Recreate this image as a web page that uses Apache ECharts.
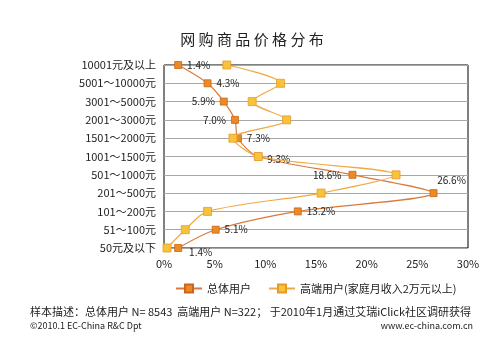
<!DOCTYPE html>
<html><head><meta charset="utf-8">
<script src="https://cdn.jsdelivr.net/npm/echarts@6/dist/echarts.min.js"></script>
<style>html,body{margin:0;padding:0;background:#fff}#c{width:504px;height:346px}</style>
</head><body><div id="c"></div>
<script>
var categories = ['10001元及以上','5001～10000元','3001～5000元','2001～3000元','1501～2000元','1001～1500元','501～1000元','201～500元','101～200元','51～100元','50元及以下'];
var overall = [1.4, 4.3, 5.9, 7.0, 7.3, 9.3, 18.6, 26.6, 13.2, 5.1, 1.4];
var highEnd = [6.2, 11.5, 8.7, 12.1, 6.8, 9.3, 22.9, 15.5, 4.3, 2.1, 0.3];
var xTicks = [0, 5, 10, 15, 20, 25, 30];
var seriesNames = ['总体用户', '高端用户(家庭月收入2万元以上)'];
var titleText = '网购商品价格分布';

var labelPos = ['right','right','left','left','right','right','left','top','right','right','right'];
var labelOff = [[0,0],[0,0],[0,0],[0,0],[0,0],[0,3],[-2,0],[18,1],[0,0],[0,0],[2,4]];
var overallData = overall.map(function(v,i){
  return {value: v, label: {position: labelPos[i], offset: labelOff[i]}};
});

var chart = echarts.init(document.getElementById('c'));
var font = '"Noto Sans CJK SC", "DejaVu Sans", sans-serif';
chart.setOption({
  animation: false,
  backgroundColor: '#fff',
  title: {text: titleText.split('').join(' '), left: 'center', top: 27,
    textStyle: {fontSize: 15, fontWeight: 'normal', color: '#222', fontFamily: font}},
  grid: {left: 164, right: 36, top: 65, bottom: 98, show: true, borderColor: '#000', borderWidth: 1, backgroundColor: 'transparent'},
  legend: {top: 278, left: 170, itemWidth: 26, itemHeight: 10, itemGap: 17,
    textStyle: {fontSize: 11, color: '#222', fontFamily: font},
    data: seriesNames},
  xAxis: {type: 'value', min: xTicks[0], max: xTicks[xTicks.length-1], interval: 5,
    axisLine: {show: false}, axisTick: {show: false}, splitLine: {show: false},
    axisLabel: {formatter: '{value}%', color: '#222', fontSize: 11, margin: 10, fontFamily: font}},
  yAxis: {type: 'category', data: categories, inverse: true, boundaryGap: false,
    axisLine: {show: false}, axisTick: {show: false},
    splitLine: {show: true, lineStyle: {color: '#a8a8a8', width: 1}},
    axisLabel: {color: '#222', fontSize: 11, margin: 8, fontFamily: font}},
  series: [
    {name: seriesNames[0], type: 'line', smooth: 0.3, data: overallData, z: 2,
     symbol: 'rect', symbolSize: 7,
     lineStyle: {color: '#D97A3A', width: 1.2},
     itemStyle: {color: '#EE8A22', borderColor: '#C8661E', borderWidth: 0.8},
     label: {show: true, formatter: function(p){return p.value.toFixed(1)+'%';}, color: '#222', fontSize: 10, fontFamily: font}},
    {name: seriesNames[1], type: 'line', smooth: 0.3, data: highEnd, z: 3,
     symbol: 'rect', symbolSize: 8,
     lineStyle: {color: '#F0A845', width: 1.2},
     itemStyle: {color: '#F8C23A', borderColor: '#E79A2A', borderWidth: 0.8}}
  ],
  graphic: [
    {type: 'text', left: 30, top: 306, style: {text: '样本描述：总体用户 N= 8543  高端用户 N=322； 于2010年1月通过艾瑞iClick社区调研获得', fontSize: 11, fill: '#222', fontFamily: font}},
    {type: 'text', left: 30, top: 321, style: {text: '©2010.1 EC-China R&C Dpt', fontSize: 9, fill: '#222', fontFamily: font}},
    {type: 'text', right: 31, top: 321, style: {text: 'www.ec-china.com.cn', fontSize: 9, fill: '#222', fontFamily: font}}
  ]
});
</script></body></html>
